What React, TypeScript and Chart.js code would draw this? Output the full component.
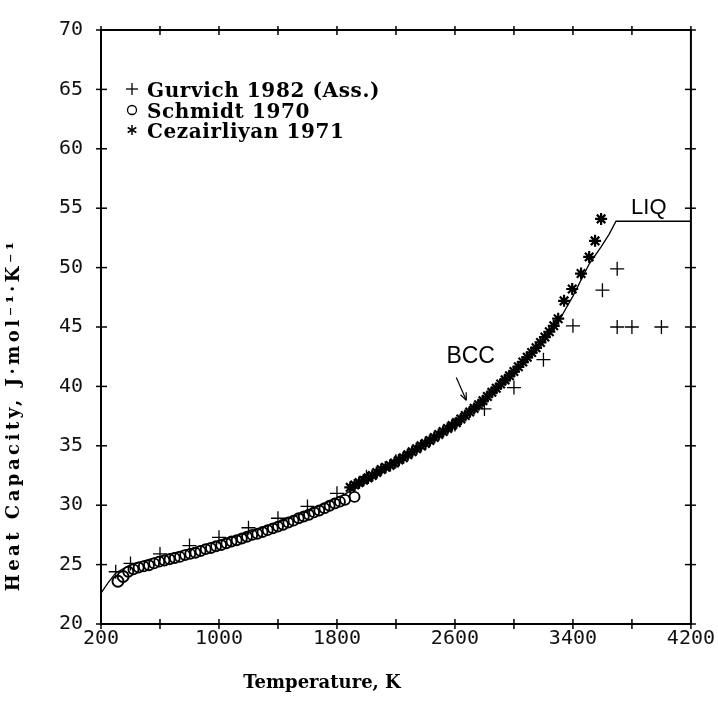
import React, { useEffect, useRef } from 'react';
import { Chart, registerables } from 'chart.js';

Chart.register(...registerables);

// ---- Data ----
const curveT = [200, 250, 300, 400, 600, 800, 1000, 1200, 1400, 1600, 1800, 2000, 2200, 2400, 2600, 2800, 3000, 3200, 3300, 3400, 3510, 3591, 3645, 3692, 4200];
const curveCp = [22.6, 23.5, 24.3, 25.0, 25.7, 26.3, 27.0, 27.7, 28.55, 29.5, 30.6, 31.9, 33.5, 35.0, 36.7, 38.7, 41.0, 43.7, 45.4, 47.6, 50.3, 51.75, 52.8, 53.9, 53.9];

const gurvichT = [300, 400, 600, 800, 1000, 1200, 1400, 1600, 1800, 2000, 2200, 2400, 2600, 2800, 3000, 3200, 3400, 3600, 3700, 3700, 3800, 4000];
const gurvichCp = [24.4, 25.1, 25.9, 26.6, 27.3, 28.1, 28.9, 29.9, 31.0, 32.4, 33.7, 35.2, 36.8, 38.1, 39.9, 42.25, 45.1, 48.1, 49.9, 45.0, 45.0, 45.0];

const schmidtT = [315, 350, 385, 420, 455, 490, 525, 560, 595, 630, 665, 700, 735, 770, 805, 840, 875, 910, 945, 980, 1015, 1050, 1085, 1120, 1155, 1190, 1225, 1260, 1295, 1330, 1365, 1400, 1435, 1470, 1505, 1540, 1575, 1610, 1645, 1680, 1715, 1750, 1785, 1820, 1855, 1919];
const schmidtCp = [23.6, 24.0, 24.4, 24.6, 24.75, 24.85, 24.95, 25.1, 25.25, 25.35, 25.45, 25.55, 25.65, 25.8, 25.9, 26.0, 26.15, 26.3, 26.4, 26.55, 26.65, 26.8, 26.95, 27.05, 27.2, 27.35, 27.5, 27.6, 27.75, 27.9, 28.05, 28.2, 28.35, 28.55, 28.7, 28.9, 29.05, 29.2, 29.4, 29.55, 29.75, 29.95, 30.15, 30.3, 30.45, 30.7];

const cezT = [1890, 1920, 1950, 1980, 2010, 2040, 2070, 2100, 2130, 2160, 2190, 2220, 2250, 2280, 2310, 2340, 2370, 2400, 2430, 2460, 2490, 2520, 2550, 2580, 2610, 2640, 2670, 2700, 2730, 2760, 2790, 2820, 2850, 2880, 2910, 2940, 2970, 3000, 3030, 3060, 3090, 3120, 3150, 3180, 3210, 3240, 3270, 3300, 3340, 3395, 3455, 3510, 3550, 3591];
const cezCp = [31.5, 31.7, 31.9, 32.1, 32.3, 32.5, 32.75, 33.0, 33.2, 33.35, 33.55, 33.8, 34.0, 34.25, 34.5, 34.75, 35.0, 35.2, 35.45, 35.7, 35.95, 36.2, 36.45, 36.7, 36.95, 37.25, 37.55, 37.85, 38.15, 38.45, 38.8, 39.15, 39.5, 39.85, 40.2, 40.55, 40.9, 41.25, 41.65, 42.05, 42.45, 42.85, 43.25, 43.7, 44.15, 44.6, 45.1, 45.7, 47.2, 48.2, 49.5, 50.9, 52.25, 54.1];

const xLabelTicks = [200, 1000, 1800, 2600, 3400, 4200];
const xMinorStep = 400;
const yTickStep = 5;
const X_MIN = 200, X_MAX = 4200, Y_MIN = 20, Y_MAX = 70;

const legendLabels = ['Gurvich 1982 (Ass.)', 'Schmidt 1970', 'Cezairliyan 1971'];
const xTitle = 'Temperature, K';
const yTitle = 'Heat Capacity, J\u00B7mol\u207B\u00B9\u00B7K\u207B\u00B9';
const liqLabel = 'LIQ';
const bccLabel = 'BCC';

const toPts = (xs: number[], ys: number[]) => xs.map((x, i) => ({ x, y: ys[i] }));

const overlay = {
  id: 'overlay',
  afterDraw(chart: any) {
    const { ctx, chartArea: a, scales } = chart;
    const xs = scales.x, ys = scales.y;
    const ln = (x1: number, y1: number, x2: number, y2: number) => {
      ctx.beginPath(); ctx.moveTo(x1, y1); ctx.lineTo(x2, y2); ctx.stroke();
    };
    ctx.save();
    ctx.strokeStyle = '#000';
    ctx.fillStyle = '#000';
    // frame
    ctx.lineWidth = 2;
    ctx.strokeRect(a.left, a.top, a.right - a.left, a.bottom - a.top);
    // ticks
    ctx.lineWidth = 1.5;
    for (let t = X_MIN; t <= X_MAX; t += xMinorStep) {
      const px = xs.getPixelForValue(t);
      ln(px, a.bottom - 5, px, a.bottom + 5);
      ln(px, a.top - 4, px, a.top + 5);
    }
    for (let v = Y_MIN; v <= Y_MAX; v += yTickStep) {
      const py = ys.getPixelForValue(v);
      ln(a.left - 5, py, a.left + 6, py);
      ln(a.right - 6, py, a.right + 5, py);
    }
    // legend
    const lx = a.left + 31;
    const tx = a.left + 46;
    const rows = [a.top + 59, a.top + 80, a.top + 100];
    ctx.lineWidth = 1.3;
    ln(lx - 6, rows[0], lx + 6, rows[0]);
    ln(lx, rows[0] - 6, lx, rows[0] + 6);
    ctx.beginPath(); ctx.arc(lx, rows[1], 4.5, 0, Math.PI * 2); ctx.stroke();
    ctx.lineWidth = 1.5;
    for (let k = 0; k < 3; k++) {
      const ang = Math.PI / 2 + (k * Math.PI) / 3;
      ln(lx - 5 * Math.cos(ang), rows[2] - 5 * Math.sin(ang), lx + 5 * Math.cos(ang), rows[2] + 5 * Math.sin(ang));
    }
    ctx.font = 'bold 20px "DejaVu Serif"';
    (ctx as any).letterSpacing = '0.6px';
    ctx.textAlign = 'left';
    ctx.textBaseline = 'alphabetic';
    legendLabels.forEach((s, i) => ctx.fillText(s, tx, rows[i] + 8));
    (ctx as any).letterSpacing = '0px';

    // axis titles
    ctx.font = 'bold 18px "DejaVu Serif"';
    ctx.textAlign = 'center';
    ctx.fillText(xTitle, a.left + 221, a.bottom + 64);
    ctx.save();
    ctx.translate(a.left - 82, a.top + 385);
    ctx.rotate(-Math.PI / 2);
    ctx.font = 'bold 18px "DejaVu Serif"';
    (ctx as any).letterSpacing = '3.5px';
    ctx.fillText(yTitle, 0, 0);
    (ctx as any).letterSpacing = '0px';
    ctx.restore();

    // annotations
    ctx.font = '22px "Liberation Sans"';
    ctx.textAlign = 'left';
    ctx.fillText(liqLabel, xs.getPixelForValue(3794), ys.getPixelForValue(54.5));
    ctx.font = '23px "Liberation Sans"';
    ctx.fillText(bccLabel, xs.getPixelForValue(2542), ys.getPixelForValue(41.95));
    const ax1 = xs.getPixelForValue(2609), ay1 = ys.getPixelForValue(40.75);
    const ax2 = xs.getPixelForValue(2677), ay2 = ys.getPixelForValue(38.83);
    ctx.lineWidth = 1.2;
    ln(ax1, ay1, ax2, ay2);
    const ang = Math.atan2(ay2 - ay1, ax2 - ax1);
    const hl = 8;
    ln(ax2, ay2, ax2 - hl * Math.cos(ang - 0.4), ay2 - hl * Math.sin(ang - 0.4));
    ln(ax2, ay2, ax2 - hl * Math.cos(ang + 0.4), ay2 - hl * Math.sin(ang + 0.4));
    ctx.restore();
  },
};

export default function App() {
  const ref = useRef<HTMLCanvasElement | null>(null);
  useEffect(() => {
    if (!ref.current) return;
    const chart = new Chart(ref.current, {
      type: 'scatter',
      data: {
        datasets: [
          {
            label: 'Assessment',
            data: toPts(curveT, curveCp),
            showLine: true,
            borderColor: '#000',
            borderWidth: 1.3,
            pointRadius: 0,
            tension: 0,
          },
          {
            label: legendLabels[0],
            data: toPts(gurvichT, gurvichCp),
            pointStyle: 'cross',
            pointRadius: 7,
            borderColor: '#000',
            borderWidth: 1.3,
          },
          {
            label: legendLabels[1],
            data: toPts(schmidtT, schmidtCp),
            pointStyle: 'circle',
            pointRadius: (c: any) => (c.dataIndex < 2 ? 5.5 : 5),
            borderColor: '#000',
            backgroundColor: 'rgba(0,0,0,0)',
            borderWidth: 1.9,
          },
          {
            label: legendLabels[2],
            data: toPts(cezT, cezCp),
            pointStyle: 'star',
            pointRadius: 6,
            borderColor: '#000',
            borderWidth: 2.2,
          },
        ] as any,
      },
      options: {
        animation: false,
        responsive: false,
        maintainAspectRatio: false,
        devicePixelRatio: 1,
        layout: { padding: { left: 0, top: 24, right: 26, bottom: 0 } },
        plugins: { legend: { display: false }, tooltip: { enabled: false }, title: { display: false } },
        scales: {
          x: {
            type: 'linear',
            min: X_MIN,
            max: X_MAX,
            grid: { display: false, drawTicks: false },
            border: { display: false },
            afterFit: (s: any) => { s.height = 77; },
            afterBuildTicks: (s: any) => { s.ticks = xLabelTicks.map((v) => ({ value: v })); },
            ticks: {
              padding: 3,
              color: '#111',
              font: { family: '"DejaVu Sans Mono"', size: 20 },
              maxRotation: 0,
              autoSkip: false,
              callback: (v: any) => String(v),
            },
          },
          y: {
            type: 'linear',
            min: Y_MIN,
            max: Y_MAX,
            grid: { display: false, drawTicks: false },
            border: { display: false },
            afterFit: (s: any) => { s.width = 101; },
            ticks: {
              stepSize: yTickStep,
              padding: 18,
              color: '#111',
              font: { family: '"DejaVu Sans Mono"', size: 20 },
              callback: (v: any) => String(v),
            },
          },
        },
      } as any,
      plugins: [overlay],
    });
    return () => chart.destroy();
  }, []);
  return (
    <div style={{ position: 'absolute', left: 0, top: 0, width: 718, height: 701, background: '#fff' }}>
      <canvas ref={ref} width={718} height={701} style={{ display: 'block' }} />
    </div>
  );
}
